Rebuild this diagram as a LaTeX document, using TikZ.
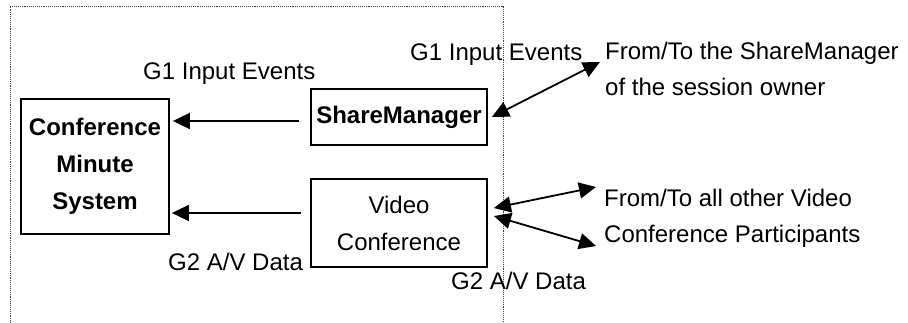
\documentclass[tikz,border=0pt]{standalone}
\usepackage{fontspec}
\setmainfont{Liberation Sans}
\usetikzlibrary{arrows.meta,calc}
\begin{document}
\begin{tikzpicture}[x=1pt,y=-1pt,
  every node/.style={font=\fontsize{24}{37}\selectfont},
  blockbox/.style={draw,line width=1.8pt,inner sep=0pt,align=center},
  lbl/.style={inner sep=0pt,anchor=base west},
  arr/.style={line width=1.8pt,-{Triangle[length=17pt,width=16pt]}},
  darr/.style={line width=1.8pt,{Triangle[length=17pt,width=16pt]}-{Triangle[length=17pt,width=16pt]}},
  frame/.style={densely dotted,line width=0.9pt,gray!50!black}]
\useasboundingbox (0,0) rectangle (908,323);

% host boundary (open at the bottom)
\draw[frame] (10,323) -- (10,6) -- (503,6) -- (503,323);

% components
\node[blockbox,minimum width=148pt,minimum height=135pt] (cms) at (95,166.5)
  {\bfseries Conference\\\bfseries Minute\\\bfseries System};
\node[blockbox,minimum width=176pt,minimum height=56pt] (sm) at (399,117)
  {\bfseries ShareManager};
\node[blockbox,minimum width=176pt,minimum height=88pt] (vc) at (399,223)
  {Video\\Conference};

% internal flows
\coordinate (smout) at ($(sm.west)+(-11,4)$);
\coordinate (vcout) at ($(vc.west)+(-9,-10)$);
\draw[arr,shorten >=3pt] (smout) -- (cms.east |- smout);
\draw[arr,shorten >=2pt] (vcout) -- (cms.east |- vcout);

% external endpoints
\coordinate (owner) at (600,62);
\coordinate (partA) at (596,187);
\coordinate (partB) at (596,246);
\draw[darr] ($(sm.east)+(4,0)$) -- (owner);
\draw[darr] ($(vc.east)+(6,-15)$) -- (partA);
\draw[darr] ($(vc.east)+(6,-7)$) -- (partB);

% labels
\node[lbl] (g1l) at (143,80) {G1 Input Events};
\node[lbl] (g2l) at (168,270) {G2 A/V Data};
\node[lbl] (g1r) at (410,61) {G1 Input Events};
\node[lbl] (g2r) at (451,290) {G2 A/V Data};
\node[lbl] (own1) at (605,60) {From/To the ShareManager};
\node[lbl] (own2) at (605,96) {of the session owner};
\node[lbl] (par1) at (604,207) {From/To all other Video};
\node[lbl] (par2) at (604,243) {Conference Participants};
\end{tikzpicture}
\end{document}
